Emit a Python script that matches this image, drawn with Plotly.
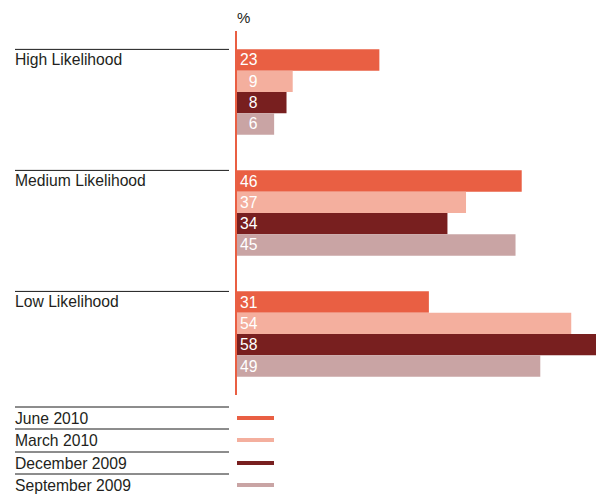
import plotly.graph_objects as go

categories = ["High Likelihood", "Medium Likelihood", "Low Likelihood"]
series_names = ["June 2010", "March 2010", "December 2009", "September 2009"]
june_2010 = [23, 46, 31]
march_2010 = [9, 37, 54]
december_2009 = [8, 34, 58]
september_2009 = [6, 45, 49]
series_values = [june_2010, march_2010, december_2009, september_2009]
colors = ["#E95F43", "#F4AF9E", "#781F1F", "#C9A4A4"]

FONT = "Liberation Sans, Arial, Helvetica, sans-serif"
TXT = "#231F20"
W, H = 596, 496
FS = 15.7

fig = go.Figure()
for name, vals, col in zip(series_names, series_values, colors):
    fig.add_trace(go.Bar(
        y=categories, x=vals, orientation="h", name=name,
        marker=dict(color=col, line=dict(width=0)),
        text=[("\u2007" + str(v)) if v < 10 else str(v) for v in vals],
        textposition="inside", insidetextanchor="start", textangle=0,
        textfont=dict(color="white", size=FS, family=FONT),
        constraintext="none", cliponaxis=False,
        hoverinfo="skip",
    ))

def py(p):
    return 1 - p / H

annotations = []
shapes = []
for i, c in enumerate(categories):
    annotations.append(dict(
        xref="paper", yref="y", x=13 / W, y=c, yshift=32.5,
        text=c, showarrow=False, xanchor="left", yanchor="middle",
        font=dict(size=FS, color=TXT, family=FONT)))
    shapes.append(dict(
        type="line", xref="paper", yref="y", x0=15 / W, x1=229 / W,
        y0=i - 0.352, y1=i - 0.352, line=dict(color="#1a1a1a", width=1)))

annotations.append(dict(
    xref="paper", yref="paper", x=235 / W, y=py(17), text="%",
    showarrow=False, xanchor="left", yanchor="middle",
    font=dict(size=15, color=TXT, family=FONT)))

line_ys = [407, 429, 452, 474]
text_ys = [418, 440, 463, 485]
for name, col, ly, ty in zip(series_names, colors, line_ys, text_ys):
    shapes.append(dict(
        type="line", xref="paper", yref="paper", x0=15 / W, x1=229 / W,
        y0=py(ly), y1=py(ly), line=dict(color="#1a1a1a", width=1)))
    shapes.append(dict(
        type="line", xref="paper", yref="paper", x0=237 / W, x1=274 / W,
        y0=py(ty), y1=py(ty), line=dict(color=col, width=4)))
    annotations.append(dict(
        xref="paper", yref="paper", x=13 / W, y=py(ty), text=name,
        showarrow=False, xanchor="left", yanchor="middle",
        font=dict(size=FS, color=TXT, family=FONT)))

fig.update_layout(
    width=W, height=H, margin=dict(l=0, r=0, t=0, b=0),
    paper_bgcolor="white", plot_bgcolor="white",
    barmode="group", bargap=0.295, bargroupgap=0,
    showlegend=False,
    xaxis=dict(domain=[237 / W, 1], range=[0, 58], visible=False, fixedrange=True),
    yaxis=dict(domain=[py(395), py(31)], range=[2.504, -0.504],
               showticklabels=False, showgrid=False, zeroline=False,
               showline=True, linecolor="#E95F43", linewidth=1.5,
               ticks="", fixedrange=True),
    annotations=annotations, shapes=shapes,
    font=dict(family=FONT),
)

fig.write_html("out.html")
